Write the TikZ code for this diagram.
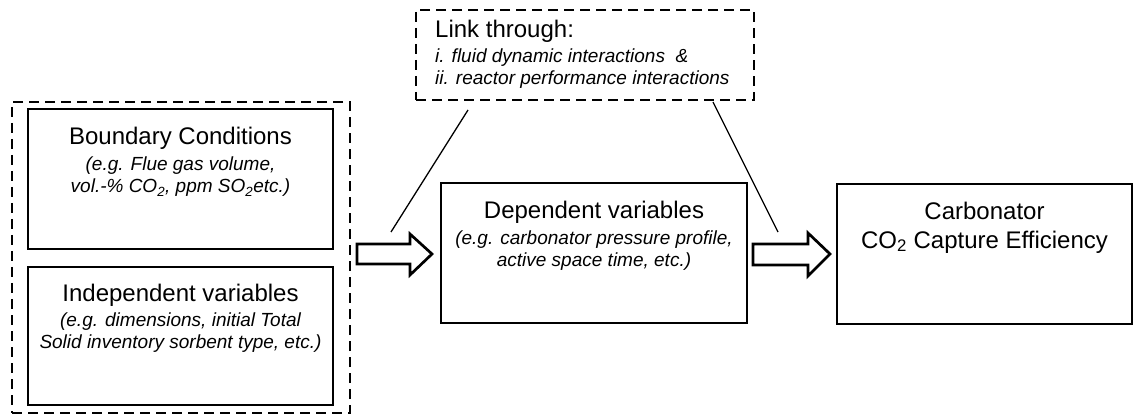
\documentclass[tikz,border=0pt]{standalone}
\usepackage{fontspec}
\setmainfont{Liberation Sans}
\usetikzlibrary{calc}
\tikzset{
  box/.style={draw=black, line width=2.7pt, rectangle, inner sep=0pt},
  dbox/.style={draw=black, line width=2.7pt, rectangle, inner sep=0pt, dash pattern=on 10pt off 6pt},
  title/.style={font=\fontsize{24}{29}\selectfont, align=center, inner sep=0pt},
  sub/.style={font=\fontsize{19}{22}\selectfont\itshape, align=center, inner sep=0pt},
  blockarrow/.style={draw=black, line width=2.7pt, fill=white, line join=miter},
  link/.style={draw=black, line width=1.3pt}
}
\begin{document}
\begin{tikzpicture}[x=1pt,y=-1pt]
\useasboundingbox (0,0) rectangle (1134,419);
% outer dashed group
\node[dbox, minimum width=338pt, minimum height=311pt] (outer) at (181,257.5) {};
\node[box, minimum width=305pt, minimum height=140pt] (bc) at (180.5,179) {};
\node[box, minimum width=305pt, minimum height=138pt] (iv) at (180.5,336) {};
\node[title] (bct) at (180.5,138) {Boundary Conditions};
\node[sub] (bcs) at (180.5,177) {(e.g. Flue gas volume,\\vol.-\% CO\textsubscript{2}, ppm SO\textsubscript{2}etc.)};
\node[title] (ivt) at (180.5,295) {Independent variables};
\node[sub] (ivs) at (180.5,332.5) {(e.g. dimensions, initial Total\\Solid inventory sorbent type, etc.)};
% link box
\node[dbox, minimum width=338pt, minimum height=90pt] (lk) at (585,55) {};
\node[title, anchor=west, align=left] (lkt) at (435,31) {Link through:};
\node[sub, anchor=west, align=left] (lks) at (435,68.5) {i. fluid dynamic interactions \ \&\\ii. reactor performance interactions};
% dependent
\node[box, minimum width=306pt, minimum height=140pt] (dep) at (594,253) {};
\node[title] (dept) at (594,212) {Dependent variables};
\node[sub] (deps) at (594,250.5) {(e.g. carbonator pressure profile,\\active space time, etc.)};
% carbonator
\node[box, minimum width=295pt, minimum height=140pt] (carb) at (984.5,254) {};
\node[title] (carbt) at (984.5,227.5) {Carbonator\\CO\textsubscript{2} Capture Efficiency};
% block arrows
\draw[blockarrow] (357,244) -- (410,244) -- (410,234) -- (432,254) -- (410,275) -- (410,264) -- (357,264) -- cycle;
\draw[blockarrow] (753,244) -- (808,244) -- (808,233) -- (830,254) -- (808,276) -- (808,265) -- (753,265) -- cycle;
% link lines
\coordinate (l1a) at (468,110);
\coordinate (l1b) at (391,232);
\coordinate (l2a) at (713,102);
\coordinate (l2b) at (778,232);
\draw[link] (l1a) -- (l1b);
\draw[link] (l2a) -- (l2b);
\end{tikzpicture}
\end{document}
